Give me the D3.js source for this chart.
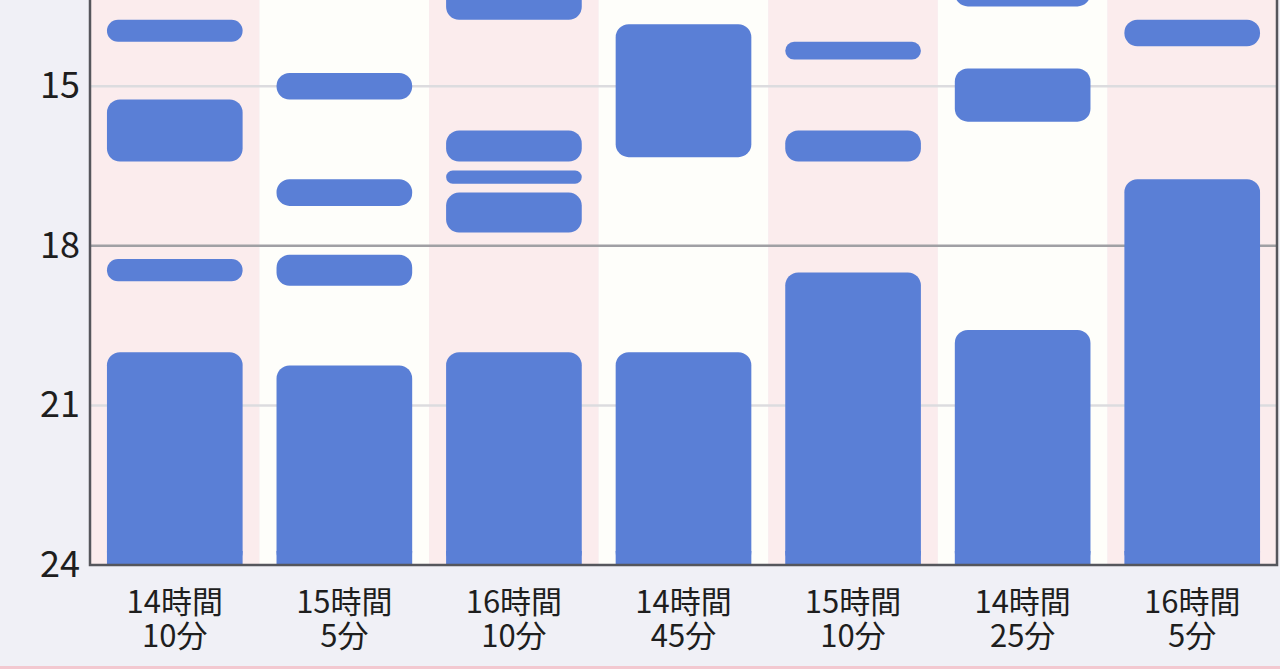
<!DOCTYPE html>
<html>
<head>
<meta charset="utf-8">
<script src="https://cdn.jsdelivr.net/npm/d3@7"></script>
<style>
  html, body { margin: 0; padding: 0; background: #f0f0f6; overflow: hidden; }
  svg { display: block; }
</style>
</head>
<body>
<script>
// labels under each column (total sleep of the day)
var dayLabels = [
  ["14時間", "10分"], ["15時間", "5分"], ["16時間", "10分"], ["14時間", "45分"],
  ["15時間", "10分"], ["14時間", "25分"], ["16時間", "5分"]
];

// sleep blocks per day, [start, end] as "HH:MM"
var day1 = [["13:45", "14:10"], ["15:15", "16:25"], ["18:15", "18:40"], ["20:00", "24:00"]];
var day2 = [["14:45", "15:15"], ["16:45", "17:15"], ["18:10", "18:45"], ["20:15", "24:00"]];
var day3 = [["12:30", "13:45"], ["15:50", "16:25"], ["16:35", "16:50"], ["17:00", "17:45"], ["20:00", "24:00"]];
var day4 = [["13:50", "16:20"], ["20:00", "24:00"]];
var day5 = [["14:10", "14:30"], ["15:50", "16:25"], ["18:30", "24:00"]];
var day6 = [["12:30", "13:30"], ["14:40", "15:40"], ["19:35", "24:00"]];
var day7 = [["13:45", "14:15"], ["16:45", "24:00"]];
var days = [day1, day2, day3, day4, day5, day6, day7];

var gridHours = [12, 15, 18, 21];
var yTicks = [15, 18, 21, 24];

var W = 1280, H = 669;
var margin = { top: 0, right: 3, bottom: 104, left: 90 };
var plotH = H - margin.top - margin.bottom;

function toHours(s) {
  var p = s.split(":");
  return +p[0] + (+p[1]) / 60;
}

var svg = d3.select("body").append("svg")
  .attr("width", W)
  .attr("height", H);

// bottom pink strip of the screen
svg.append("rect")
  .attr("x", 0).attr("y", H - 3)
  .attr("width", W).attr("height", 3)
  .attr("fill", "#f3c8d0");

var x = d3.scaleBand()
  .domain(d3.range(days.length))
  .range([margin.left, W - margin.right])
  .paddingInner(0.2)
  .paddingOuter(0.1);

// 24 at the bottom, earlier hours going up
var y = d3.scaleLinear()
  .domain([24 - plotH / 53.2, 24])
  .range([margin.top, margin.top + plotH]);

svg.append("clipPath").attr("id", "plot")
  .append("rect")
  .attr("x", margin.left).attr("y", margin.top)
  .attr("width", W - margin.right - margin.left).attr("height", plotH);

var plot = svg.append("g").attr("clip-path", "url(#plot)");

// column stripes
var step = x.step();
plot.selectAll(".stripe")
  .data(days)
  .enter().append("rect")
  .attr("class", "stripe")
  .attr("x", function (d, i) { return x(i) - step * 0.1; })
  .attr("y", margin.top)
  .attr("width", step)
  .attr("height", plotH)
  .attr("fill", function (d, i) { return i % 2 == 0 ? "#fbeced" : "#fefefa"; });

// grid
plot.selectAll(".grid")
  .data(gridHours)
  .enter().append("line")
  .attr("class", "grid")
  .attr("x1", margin.left).attr("x2", W - margin.right)
  .attr("y1", function (d) { return y(d); })
  .attr("y2", function (d) { return y(d); })
  .attr("stroke", function (d) { return d % 6 == 0 ? "#a0a0a4" : "#dcdcdf"; })
  .attr("stroke-width", 2.5);

// sleep blocks
var cols = plot.selectAll(".day")
  .data(days)
  .enter().append("g")
  .attr("class", "day");

cols.selectAll("rect")
  .data(function (d, i) { return d.map(function (s) { return { i: i, a: toHours(s[0]), b: toHours(s[1]) }; }); })
  .enter().append("rect")
  .attr("x", function (d) { return x(d.i); })
  .attr("width", x.bandwidth())
  .attr("y", function (d) { return y(d.a); })
  .attr("height", function (d) { return y(d.b) - y(d.a); })
  .attr("rx", function (d) { return Math.min(13, (y(d.b) - y(d.a)) / 2); })
  .attr("fill", "#5a7fd6");

// cover the rounded bottom corners of blocks that run to 24:00
cols.selectAll(".sq")
  .data(function (d, i) { return d.filter(function (s) { return s[1] == "24:00"; }).map(function () { return i; }); })
  .enter().append("rect")
  .attr("class", "sq")
  .attr("x", function (d) { return x(d); })
  .attr("width", x.bandwidth())
  .attr("y", y(24) - 14)
  .attr("height", 14)
  .attr("fill", "#5a7fd6");

// frame
svg.append("path")
  .attr("d", "M" + margin.left + "," + margin.top + "V" + (margin.top + plotH) +
    "H" + (W - margin.right) + "V" + margin.top)
  .attr("fill", "none")
  .attr("stroke", "#55565c")
  .attr("stroke-width", 2.5);

// y axis labels
var yAxis = svg.append("g")
  .attr("transform", "translate(" + margin.left + ",0)")
  .call(d3.axisLeft(y).tickValues(yTicks).tickSize(0).tickPadding(10));
yAxis.select(".domain").remove();
yAxis.selectAll("text")
  .attr("font-family", "'Noto Sans CJK JP', 'Noto Sans', sans-serif")
  .attr("font-size", 36)
  .attr("fill", "#1e1e1e");

// x labels
var xl = svg.append("g").selectAll("text")
  .data(dayLabels)
  .enter().append("text")
  .attr("x", function (d, i) { return x(i) + x.bandwidth() / 2; })
  .attr("y", margin.top + plotH + 48)
  .attr("text-anchor", "middle")
  .attr("font-family", "'Noto Sans CJK JP', 'Noto Sans', sans-serif")
  .attr("font-size", 31)
  .attr("fill", "#1e1e1e");

xl.append("tspan")
  .attr("x", function (d, i) { return x(i) + x.bandwidth() / 2; })
  .text(function (d) { return d[0]; });
xl.append("tspan")
  .attr("x", function (d, i) { return x(i) + x.bandwidth() / 2; })
  .attr("dy", 34)
  .text(function (d) { return d[1]; });
</script>
</body>
</html>
